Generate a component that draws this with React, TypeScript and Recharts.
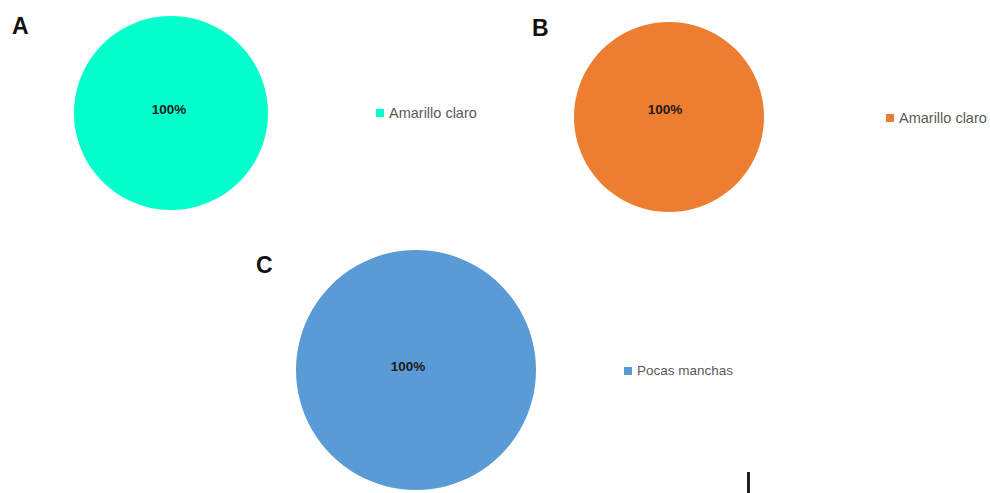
import React from "react";
import { PieChart, Pie, Cell, Legend } from "recharts";

// Panel A
const categoriesA = ["Amarillo claro"];
const valuesA = [100];
// Panel B
const categoriesB = ["Amarillo claro"];
const valuesB = [100];
// Panel C
const categoriesC = ["Pocas manchas"];
const valuesC = [100];

const panelTitles = ["A", "B", "C"];
const colorsA = ["#03FFCB"];
const colorsB = ["#ED7D31"];
const colorsC = ["#5B9BD5"];

const FONT = "'Liberation Sans', Arial, sans-serif";

type PanelProps = {
  categories: string[];
  values: number[];
  colors: string[];
  left: number;
  top: number;
  width: number;
  height: number;
  cx: number;
  cy: number;
  radius: number;
  labelDx: number;
  labelDy: number;
  legendLeft: number;
  legendTop: number;
  legendFontSize: number;
};

const makePercentLabel = (dx: number, dy: number) => (props: any) => {
  const { cx, cy, percent } = props;
  return (
    <text
      x={cx + dx}
      y={cy + dy}
      textAnchor="middle"
      dominantBaseline="central"
      fontFamily={FONT}
      fontWeight={700}
      fontSize={13.5}
      fill="#1c1c1c"
    >
      {`${Math.round(percent * 100)}%`}
    </text>
  );
};

const LegendContent = (props: any) => {
  const { payload, fontSize } = props;
  return (
    <div style={{ fontFamily: FONT }}>
      {(payload || []).map((entry: any, i: number) => (
        <div key={i} style={{ display: "flex", alignItems: "center", height: 18 }}>
          <span
            style={{
              display: "inline-block",
              width: 8,
              height: 8,
              background: entry.color,
              marginRight: 5,
            }}
          />
          <span style={{ fontSize, color: "#595959", lineHeight: "18px" }}>{entry.value}</span>
        </div>
      ))}
    </div>
  );
};

const PiePanel = (p: PanelProps) => {
  const data = p.categories.map((name, i) => ({ name, value: p.values[i] }));
  return (
    <div style={{ position: "absolute", left: p.left, top: p.top }}>
      <PieChart width={p.width} height={p.height} margin={{ top: 0, right: 0, bottom: 0, left: 0 }}>
        <Pie
          data={data}
          dataKey="value"
          nameKey="name"
          cx={p.cx}
          cy={p.cy}
          outerRadius={p.radius}
          startAngle={90}
          endAngle={-270}
          stroke="none"
          label={makePercentLabel(p.labelDx, p.labelDy)}
          labelLine={false}
          isAnimationActive={false}
        >
          {data.map((_, i) => (
            <Cell key={i} fill={p.colors[i % p.colors.length]} />
          ))}
        </Pie>
        <Legend
          content={<LegendContent fontSize={p.legendFontSize} />}
          wrapperStyle={{ position: "absolute", left: p.legendLeft, top: p.legendTop, width: "auto" }}
        />
      </PieChart>
    </div>
  );
};

const titleStyle = (left: number, top: number): React.CSSProperties => ({
  position: "absolute",
  left,
  top,
  fontFamily: FONT,
  fontWeight: 700,
  fontSize: 23,
  lineHeight: "23px",
  color: "#111",
});

export default function App() {
  return (
    <div
      style={{
        position: "absolute",
        left: 0,
        top: 0,
        width: 990,
        height: 493,
        background: "#fff",
        overflow: "hidden",
      }}
    >
      <PiePanel
        categories={categoriesA}
        values={valuesA}
        colors={colorsA}
        left={0}
        top={0}
        width={495}
        height={240}
        cx={171}
        cy={113}
        radius={97}
        labelDx={-2}
        labelDy={-4}
        legendLeft={376}
        legendTop={104}
        legendFontSize={14.5}
      />
      <PiePanel
        categories={categoriesB}
        values={valuesB}
        colors={colorsB}
        left={495}
        top={0}
        width={495}
        height={240}
        cx={174}
        cy={117}
        radius={95}
        labelDx={-4}
        labelDy={-8}
        legendLeft={391}
        legendTop={109}
        legendFontSize={14.5}
      />
      <PiePanel
        categories={categoriesC}
        values={valuesC}
        colors={colorsC}
        left={0}
        top={240}
        width={990}
        height={253}
        cx={416}
        cy={130}
        radius={120}
        labelDx={-8}
        labelDy={-4}
        legendLeft={624}
        legendTop={122}
        legendFontSize={13.5}
      />
      <div style={titleStyle(12, 15)}>{panelTitles[0]}</div>
      <div style={titleStyle(532, 17)}>{panelTitles[1]}</div>
      <div style={titleStyle(256, 254)}>{panelTitles[2]}</div>
      <div
        style={{ position: "absolute", left: 747, top: 472, width: 2.5, height: 21, background: "#222" }}
      />
    </div>
  );
}
